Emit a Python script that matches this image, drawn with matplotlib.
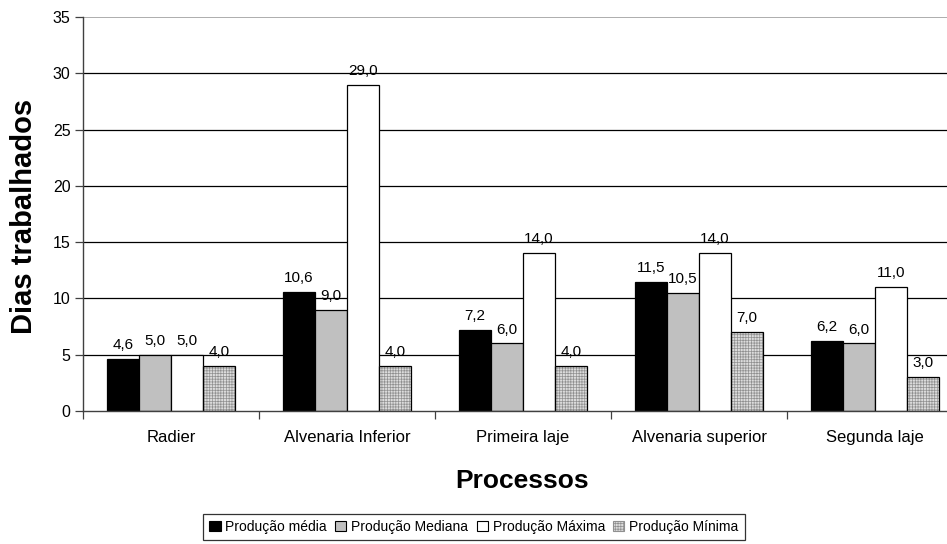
import matplotlib
matplotlib.use("Agg")
import matplotlib.pyplot as plt
from matplotlib.patches import Patch
import numpy as np

plt.rcParams['font.family'] = ['Liberation Sans', 'DejaVu Sans']
plt.rcParams['hatch.linewidth'] = 0.5

processos = ["Radier", "Alvenaria Inferior", "Primeira laje", "Alvenaria superior", "Segunda laje"]
series_names = ["Produção média", "Produção Mediana", "Produção Máxima", "Produção Mínima"]
prod_media = [4.6, 10.6, 7.2, 11.5, 6.2]
prod_mediana = [5.0, 9.0, 6.0, 10.5, 6.0]
prod_maxima = [5.0, 29.0, 14.0, 14.0, 11.0]
prod_minima = [4.0, 4.0, 4.0, 7.0, 3.0]
y_ticks = [0, 5, 10, 15, 20, 25, 30, 35]

series = [prod_media, prod_mediana, prod_maxima, prod_minima]
faces = ["#000000", "#c0c0c0", "#ffffff", "#dcdcdc"]
hatch_pat = "++++++"
hatch_col = "#909090"

fig = plt.figure(figsize=(9.47, 5.44), dpi=100)
ax = fig.add_axes([83 / 947, 1 - 411 / 544, 880 / 947, 394 / 544])

x = np.arange(len(processos))
w = 32 / 176

for i, (vals, fc) in enumerate(zip(series, faces)):
    pos = x + (i - 1.5) * w
    if i == 3:
        ax.bar(pos, vals, w, color=fc, edgecolor=hatch_col, hatch=hatch_pat,
               linewidth=0, zorder=3)
        ax.bar(pos, vals, w, fill=False, edgecolor="#000000", linewidth=0.9, zorder=4)
    else:
        ax.bar(pos, vals, w, color=fc, edgecolor="#000000", linewidth=0.9, zorder=3)
    for xp, v in zip(pos, vals):
        ax.annotate(f"{v:.1f}".replace(".", ","), (xp, v), xytext=(0, 5),
                    textcoords="offset points", ha="center", va="bottom",
                    fontsize=11, color="#000000", zorder=5)

ax.set_xlim(-0.5, len(processos) - 0.5)
ax.set_ylim(0, 35)
ax.set_yticks(y_ticks)
ax.set_yticklabels([str(t) for t in y_ticks], fontsize=11.5)
ax.tick_params(axis="y", direction="out", length=6, width=0.9, color="#404040", pad=3)

# category boundaries as ticks, category names as label-only minor ticks
ax.set_xticks(np.arange(-0.5, len(processos), 1.0))
ax.set_xticklabels([])
ax.tick_params(axis="x", which="major", direction="out", length=6, width=0.9, color="#404040")
ax.set_xticks(x, minor=True)
ax.set_xticklabels(processos, minor=True, fontsize=12)
ax.tick_params(axis="x", which="minor", length=0, pad=14)

for t in y_ticks[1:-1]:
    ax.axhline(t, color="#000000", linewidth=0.9, zorder=1)
ax.axhline(35, color="#a0a0a0", linewidth=1.2, zorder=1)

for side in ["top", "right"]:
    ax.spines[side].set_visible(False)
for side in ["left", "bottom"]:
    ax.spines[side].set_color("#404040")
    ax.spines[side].set_linewidth(1.0)
ax.spines["bottom"].set_zorder(6)

fig.text(24 / 947, 1 - 216 / 544, "Dias trabalhados", rotation=90, ha="center", va="center",
         fontsize=21, fontweight="bold")
fig.text(522 / 947, 1 - 481 / 544, "Processos", ha="center", va="center",
         fontsize=19, fontweight="bold")

handles = [
    Patch(facecolor=faces[0], edgecolor="#000000", linewidth=0.8),
    Patch(facecolor=faces[1], edgecolor="#000000", linewidth=0.8),
    Patch(facecolor=faces[2], edgecolor="#000000", linewidth=0.8),
    Patch(facecolor=faces[3], edgecolor=hatch_col, hatch=hatch_pat, linewidth=0.8),
]
leg = fig.legend(handles, series_names, loc="center", ncol=4,
                 bbox_to_anchor=(474 / 947, 1 - 527 / 544), fontsize=10,
                 frameon=True, fancybox=False, edgecolor="#000000",
                 handlelength=0.8, handleheight=0.8, handletextpad=0.35,
                 columnspacing=0.6, borderpad=0.45, borderaxespad=0)
leg.get_frame().set_linewidth(0.9)

fig.savefig("out.png", dpi=100)
